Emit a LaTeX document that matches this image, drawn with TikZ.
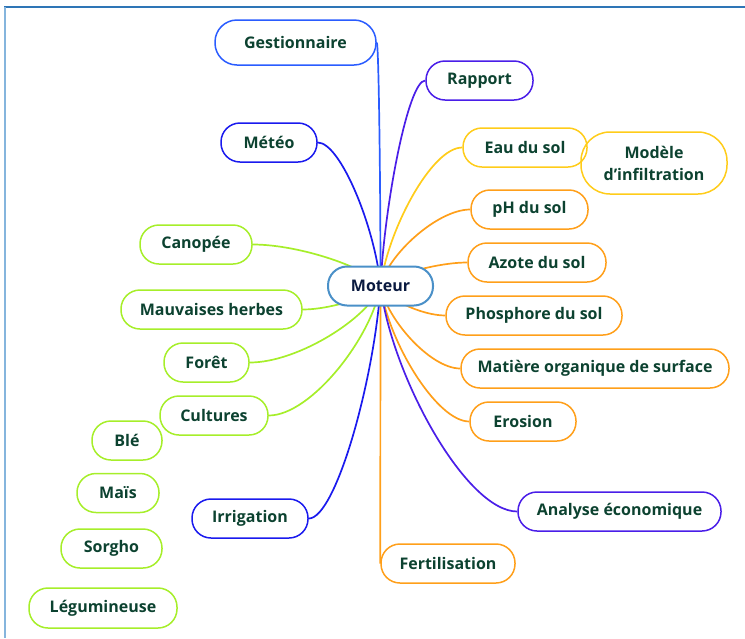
\documentclass[tikz,border=0pt]{standalone}
\usepackage{fontspec}
\setmainfont{Open Sans}
\usetikzlibrary{backgrounds}

\definecolor{txtgreen}{RGB}{12,66,48}
\definecolor{txtnavy}{RGB}{10,26,64}
\definecolor{cgest}{RGB}{42,92,255}
\definecolor{cviolet}{RGB}{74,30,232}
\definecolor{cblue}{RGB}{26,26,238}
\definecolor{cyellow}{RGB}{255,204,26}
\definecolor{corange}{RGB}{255,159,26}
\definecolor{cgreen}{RGB}{166,238,42}
\definecolor{cmoteur}{RGB}{74,144,200}
\definecolor{cframetop}{RGB}{46,117,182}
\definecolor{cframeleft}{RGB}{133,181,221}

\tikzset{
  topic/.style={draw, line width=1.5pt, rounded corners=19pt, minimum height=39pt,
    inner sep=0pt, text=txtgreen, font=\fontsize{16}{22}\selectfont\bfseries},
  link/.style={line width=1.7pt},
}

\begin{document}
\begin{tikzpicture}[x=1pt,y=-1pt]
\useasboundingbox (0,0) rectangle (745,638);

%Frame
\draw [cframetop, line width=1.5pt] (4,7) -- (745,7) ;
\draw [cframeleft, line width=2pt] (5,7) -- (5,638) ;

% Centre
\node [topic, draw=cmoteur, fill=white, line width=2pt, text=txtnavy, minimum width=105pt] (moteur) at (380.5,286) {Moteur};

% Text Node
\node [topic, draw=cgest, minimum width=161pt, minimum height=45pt, rounded corners=22pt] (gest) at (295.5,42.5) {Gestionnaire};
\node [topic, draw=cviolet, minimum width=107pt] (rapport) at (479.5,80.5) {Rapport};
\node [topic, draw=cblue, minimum width=96pt] (meteo) at (269,142.5) {Météo};
\node [topic, draw=cyellow, minimum width=124pt] (eau) at (525,147.5) {Eau du sol};
\node [topic, draw=cyellow, minimum width=146pt, minimum height=62pt, rounded corners=29pt, align=center] (modele) at (654,163) {Modèle\\d’infiltration};
\node [topic, draw=corange, minimum width=117pt] (ph) at (529.5,209.5) {pH du sol};
\node [topic, draw=corange, minimum width=138pt] (azote) at (537,262.5) {Azote du sol};
\node [topic, draw=corange, minimum width=176pt] (phos) at (534,315.5) {Phosphore du sol};
\node [topic, draw=corange, minimum width=268pt] (matiere) at (595,368.5) {Matière organique de surface};
\node [topic, draw=corange, minimum width=106pt] (erosion) at (523,421.5) {Erosion};
\node [topic, draw=cviolet, minimum width=203pt] (analyse) at (619.5,511.5) {Analyse économique};
\node [topic, draw=corange, minimum width=134pt] (fert) at (448,563.5) {Fertilisation};

% Text Node
\node [topic, draw=cgreen, minimum width=112pt] (canopee) at (196,244.5) {Canopée};
\node [topic, draw=cgreen, minimum width=181pt] (mauvaises) at (211.5,309.5) {Mauvaises herbes};
\node [topic, draw=cgreen, minimum width=85pt] (foret) at (206.5,362.5) {Forêt};
\node [topic, draw=cgreen, minimum width=108pt] (cultures) at (214,415.5) {Cultures};
\node [topic, draw=cgreen, minimum width=70pt] (ble) at (127,440.5) {Blé};
\node [topic, draw=cgreen, minimum width=82pt] (mais) at (118,493) {Maïs};
\node [topic, draw=cgreen, minimum width=101pt] (sorgho) at (111.5,548.5) {Sorgho};
\node [topic, draw=cgreen, minimum width=148pt, minimum height=40pt] (legum) at (103,608) {Légumineuse};
\node [topic, draw=cblue, minimum width=116pt] (irrigation) at (250,518.5) {Irrigation};

%Curve Lines
\begin{scope}[on background layer]
\draw [link, cgest] (moteur.center) .. controls +(0,-98) and +(2,0) .. (gest.east) ;
\draw [link, cviolet] (moteur.center) .. controls +(4,-82) and +(-17,0) .. (rapport.west) ;
\draw [link, cblue] (moteur.center) .. controls +(-5,-57) and +(23,0) .. (meteo.east) ;
\draw [link, cyellow] (moteur.center) .. controls +(7,-55) and +(-31,0) .. (eau.west) ;
\draw [link, corange] (moteur.center) .. controls +(7,-31) and +(-33,0) .. (ph.west) ;
\draw [link, corange] (moteur.center) .. controls +(7,-9) and +(-32,0) .. (azote.west) ;
\draw [link, corange] (moteur.center) .. controls +(5,12) and +(-24,0) .. (phos.west) ;
\draw [link, corange] (moteur.center) .. controls +(6,33) and +(-30,0) .. (matiere.west) ;
\draw [link, corange] (moteur.center) .. controls +(7,54) and +(-33,0) .. (erosion.west) ;
\draw [link, cviolet] (moteur.center) .. controls +(11,90) and +(-51,0) .. (analyse.west) ;
\draw [link, corange] (moteur.center) -- (fert.west) ;
\draw [link, cgreen] (moteur.center) .. controls +(-10,-17) and +(48,0) .. (canopee.east) ;
\draw [link, cgreen] (moteur.center) .. controls +(-6,9) and +(29,0) .. (mauvaises.east) ;
\draw [link, cgreen] (moteur.center) .. controls +(-11,31) and +(49,0) .. (foret.east) ;
\draw [link, cgreen] (moteur.center) .. controls +(-9,52) and +(42,0) .. (cultures.east) ;
\draw [link, cblue] (moteur.center) .. controls +(-6,93) and +(27,0) .. (irrigation.east) ;
\end{scope}

\end{tikzpicture}
\end{document}
